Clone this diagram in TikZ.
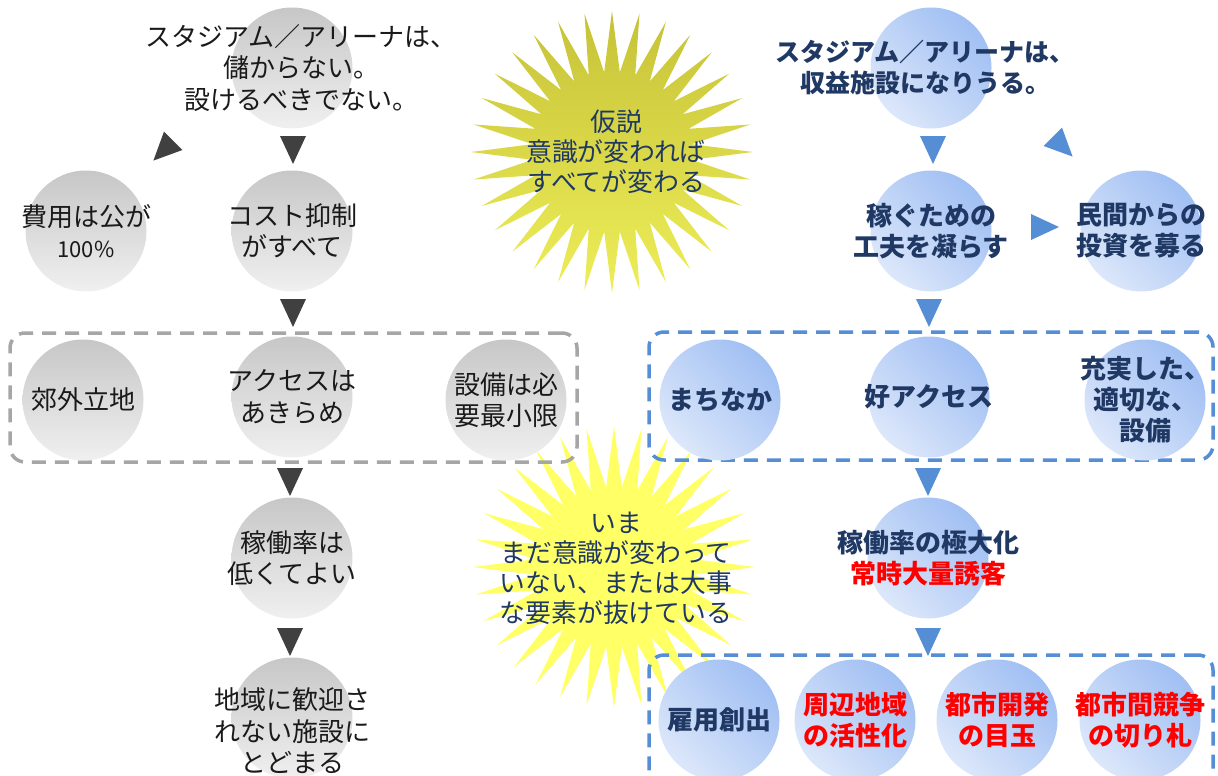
\documentclass[tikz,border=0pt]{standalone}
\usepackage{fontspec}
\setmainfont{Noto Sans CJK JP}
\usetikzlibrary{calc}
\definecolor{navytxt}{HTML}{1F3864}
\definecolor{darktxt}{HTML}{1A1A1A}
\definecolor{redtxt}{HTML}{FF0000}
\definecolor{gtri}{HTML}{404040}
\definecolor{btri}{HTML}{558ED5}
\definecolor{gline}{HTML}{A6A6A6}
\definecolor{bline}{HTML}{558ED5}
\begin{document}
\begin{tikzpicture}[x=1pt,y=-1pt,
  gcirc/.style={circle, minimum size=121pt, inner sep=0pt, top color=black!22, bottom color=black!6},
  bcirc/.style={circle, minimum size=121pt, inner sep=0pt, top color={rgb,255:red,160;green,191;blue,243}, bottom color={rgb,255:red,220;green,231;blue,250}, shading angle=-45},
  gbox/.style={rectangle, draw=gline, line width=3.5pt, dash pattern=on 14pt off 9pt, rounded corners=15pt, inner sep=0pt},
  bbox/.style={gbox, draw=bline},
  ltext/.style={align=center, text=darktxt, inner sep=0pt, font=\fontsize{26}{31.5}\selectfont},
  rtext/.style={align=center, text=navytxt, inner sep=0pt, font=\fontsize{26}{31}\selectfont\bfseries},
  stext/.style={align=center, text=navytxt, inner sep=0pt, font=\fontsize{25.8}{30}\selectfont},
  tri/.pic={\fill[pic actions] (-13,-13) -- (13,-13) -- (0,15) -- cycle;}
]
\useasboundingbox (0,0) rectangle (1218,776);

% starbursts
\coordinate (c1) at (612,152);
\coordinate (c2) at (614,567);
\path[top color={rgb,255:red,198;green,194;blue,56}, bottom color={rgb,255:red,238;green,238;blue,88}]
  ($(c1)+(0:141)$) \foreach \i in {0,...,31} { -- ($(c1)+({\i*11.25}:141)$) -- ($(c1)+({\i*11.25+5.625}:80)$) } -- cycle;
\fill[fill={rgb,255:red,255;green,255;blue,102}]
  ($(c2)+(0:141)$) \foreach \i in {0,...,31} { -- ($(c2)+({\i*11.25}:141)$) -- ($(c2)+({\i*11.25+5.625}:80)$) } -- cycle;
\node[stext] (s1) at ([xshift=4pt]c1) {仮説\\意識が変われば\\すべてが変わる};
\node[stext] (s2) at ([xshift=2pt,yshift=-1pt]c2) {いま\\まだ意識が変わって\\いない、または大事\\な要素が抜けている};

% dashed boxes
\node[gbox, minimum width=567pt, minimum height=129pt] (gb) at (293.5,397.5) {};
\node[bbox, minimum width=564pt, minimum height=128pt] (bb1) at (931,396) {};
\node[bbox, minimum width=564pt, minimum height=131pt] (bb2) at (931,720.5) {};

% gray circles
\node[gcirc] (a0) at (292,68) {};
\node[gcirc] (a1) at (86,231) {};
\node[gcirc] (a2) at (292,231) {};
\node[gcirc] (a3) at (83,400) {};
\node[gcirc] (a4) at (292,397) {};
\node[gcirc] (a5) at (506,400) {};
\node[gcirc] (a6) at (292,558) {};
\node[gcirc] (a7) at (292,718) {};

\node[ltext] (a0t) at ([xshift=9pt]a0) {スタジアム／アリーナは、\\儲からない。\\設けるべきでない。};
\node[ltext] (a1t) at (a1) {費用は公が\\{\fontsize{22}{31.5}\selectfont 100\%}};
\node[ltext] (a2t) at (a2) {コスト抑制\\がすべて};
\node[ltext] (a3t) at (a3) {郊外立地};
\node[ltext] (a4t) at (a4) {アクセスは\\あきらめ};
\node[ltext] (a5t) at (a5) {設備は必\\要最小限};
\node[ltext] (a6t) at (a6) {稼働率は\\低くてよい};
\node[ltext] (a7t) at ([yshift=-13pt]a7) {地域に歓迎さ\\れない施設に\\とどまる};

% blue circles
\node[bcirc] (b0) at (931,68) {};
\node[bcirc] (b1) at (931,231) {};
\node[bcirc] (b2) at (1141,231) {};
\node[bcirc] (b3) at (720,400) {};
\node[bcirc] (b4) at (929,397) {};
\node[bcirc] (b5) at (1145,400) {};
\node[bcirc] (b6) at (928,558) {};
\node[bcirc] (b7) at (719,720) {};
\node[bcirc] (b8) at (855,720) {};
\node[bcirc] (b9) at (997,720) {};
\node[bcirc] (b10) at (1140,720) {};

\node[rtext, font=\fontsize{25}{31}\selectfont\bfseries] (b0t) at ([xshift=-6pt]b0) {スタジアム／アリーナは、\\収益施設になりうる。};
\node[rtext] (b1t) at (b1) {稼ぐための\\工夫を凝らす};
\node[rtext] (b2t) at (b2) {民間からの\\投資を募る};
\node[rtext] (b3t) at (b3) {まちなか};
\node[rtext] (b4t) at (b4) {好アクセス};
\node[rtext] (b5t) at (b5) {充実した、\\適切な、\\設備};
\node[rtext] (b6t) at (b6) {稼働率の極大化\\{\color{redtxt}常時大量誘客}};
\node[rtext] (b7t) at (b7) {雇用創出};
\node[rtext, text=redtxt] (b8t) at (b8) {周辺地域\\の活性化};
\node[rtext, text=redtxt] (b9t) at (b9) {都市開発\\の目玉};
\node[rtext, text=redtxt] (b10t) at (b10) {都市間競争\\の切り札};

% triangles (gray)
\pic[fill=gtri] (t1) at (293,149) {tri};
\pic[fill=gtri, rotate=-45] (t0) at (164,150) {tri};
\pic[fill=gtri] (t2) at (293,312) {tri};
\pic[fill=gtri] (t3) at (290,481) {tri};
\pic[fill=gtri] (t4) at (290,641) {tri};
% triangles (blue)
\pic[fill=btri] (u1) at (933,149) {tri};
\pic[fill=btri, rotate=45] (u0) at (1062,146) {tri};
\pic[fill=btri, rotate=90] (u2) at (1044,227) {tri};
\pic[fill=btri] (u3) at (929,312) {tri};
\pic[fill=btri] (u4) at (928,481) {tri};
\pic[fill=btri] (u5) at (928,641) {tri};
\end{tikzpicture}
\end{document}
